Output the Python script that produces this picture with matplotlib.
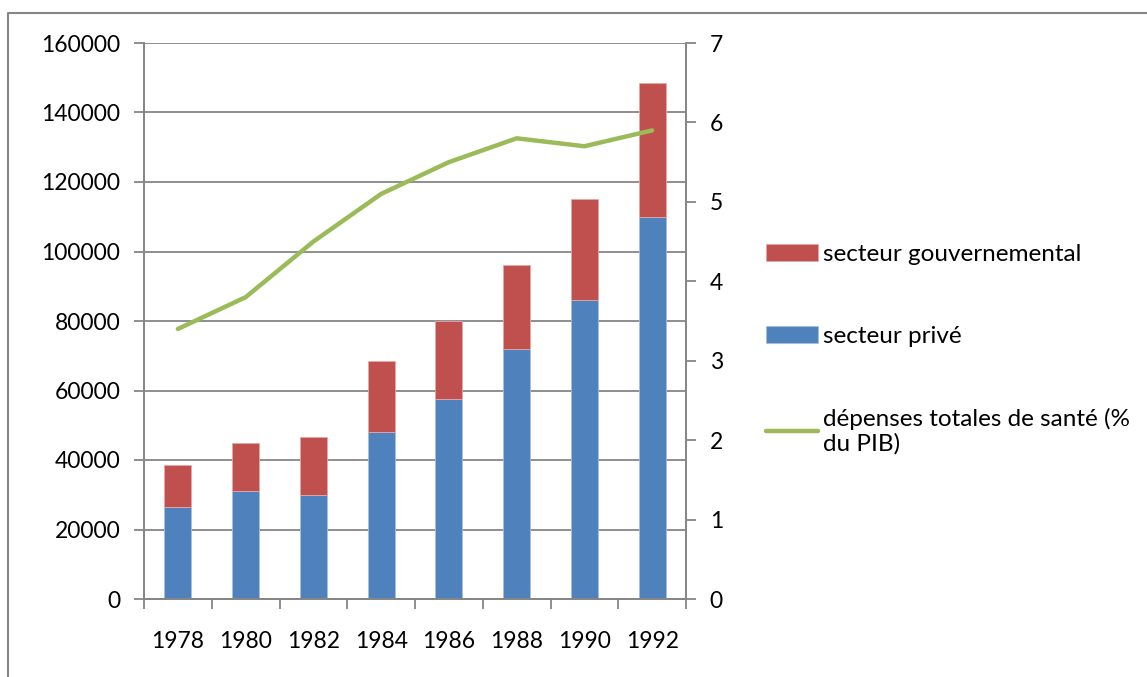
import matplotlib.pyplot as plt
from matplotlib.lines import Line2D
import numpy as np

years = ['1978', '1980', '1982', '1984', '1986', '1988', '1990', '1992']
prive = [26500, 31000, 30000, 48000, 57500, 72000, 86000, 110000]
gouvernemental = [12000, 14000, 16500, 20500, 22500, 24000, 29000, 38500]
pib_pct = [3.4, 3.8, 4.5, 5.1, 5.5, 5.8, 5.7, 5.9]

blue = '#4F81BD'
red = '#C0504D'
green = '#9BBB59'
gray = '#868686'

plt.rcParams['font.family'] = ['Lato', 'DejaVu Sans']
plt.rcParams['font.size'] = 16.5

fig = plt.figure(figsize=(11.47, 6.77), dpi=100)
ax = fig.add_axes([144 / 1147, 78 / 677, 542 / 1147, 556 / 677])
x = np.arange(len(years))

ax.bar(x, prive, width=0.4, color=blue, edgecolor='#A7BFDE', linewidth=0.6,
       label='secteur privé', zorder=2)
ax.bar(x, gouvernemental, width=0.4, bottom=prive, color=red, edgecolor='#E3A9A8',
       linewidth=0.6, label='secteur gouvernemental', zorder=2)

ax.set_xlim(-0.5, len(years) - 0.5)
ax.set_ylim(0, 160000)
ax.set_yticks(range(0, 160001, 20000))
ax.yaxis.grid(True, color=gray, linewidth=1.3)
ax.set_axisbelow(True)

# category boundaries get tick marks, centres get the labels
ax.set_xticks(np.arange(-0.5, len(years), 1.0))
ax.set_xticklabels([])
ax.set_xticks(x, minor=True)
ax.set_xticklabels(years, minor=True)
ax.tick_params(axis='x', which='major', direction='out', length=7, width=1.3, color=gray)
ax.tick_params(axis='x', which='minor', length=0, pad=23)
ax.tick_params(axis='y', direction='out', length=7, width=1.3, color=gray, pad=10)

for side in ['left', 'bottom', 'right']:
    ax.spines[side].set_color(gray)
    ax.spines[side].set_linewidth(1.3)
ax.spines['top'].set_visible(False)

ax2 = ax.twinx()
ax2.plot(x, pib_pct, color=green, linewidth=3.2, solid_capstyle='round',
         label='dépenses totales de santé (%\ndu PIB)')
ax2.set_ylim(0, 7)
ax2.set_yticks(range(0, 8))
ax2.tick_params(axis='y', direction='out', length=7, width=1.3, color=gray, pad=10)
for side in ['left', 'bottom', 'right']:
    ax2.spines[side].set_color(gray)
    ax2.spines[side].set_linewidth(1.3)
ax2.spines['top'].set_visible(False)

h1, l1 = ax.get_legend_handles_labels()
h2, l2 = ax2.get_legend_handles_labels()
handles = [h1[1], h1[0], h2[0]]
labels = [l1[1], l1[0], l2[0]]
fig.legend(handles, labels, loc='upper left', bbox_to_anchor=(744 / 1147, 1 - 222 / 677),
           frameon=False, labelspacing=2.5, handlelength=2.15, handleheight=0.7,
           handletextpad=0.2, fontsize=17.5)

# outer chart border
fig.add_artist(Line2D([8 / 1147, 8 / 1147, 1.01], [-0.01, 1 - 13 / 677, 1 - 13 / 677],
                      color=gray, linewidth=1.5))

fig.savefig('out.png', dpi=100)
